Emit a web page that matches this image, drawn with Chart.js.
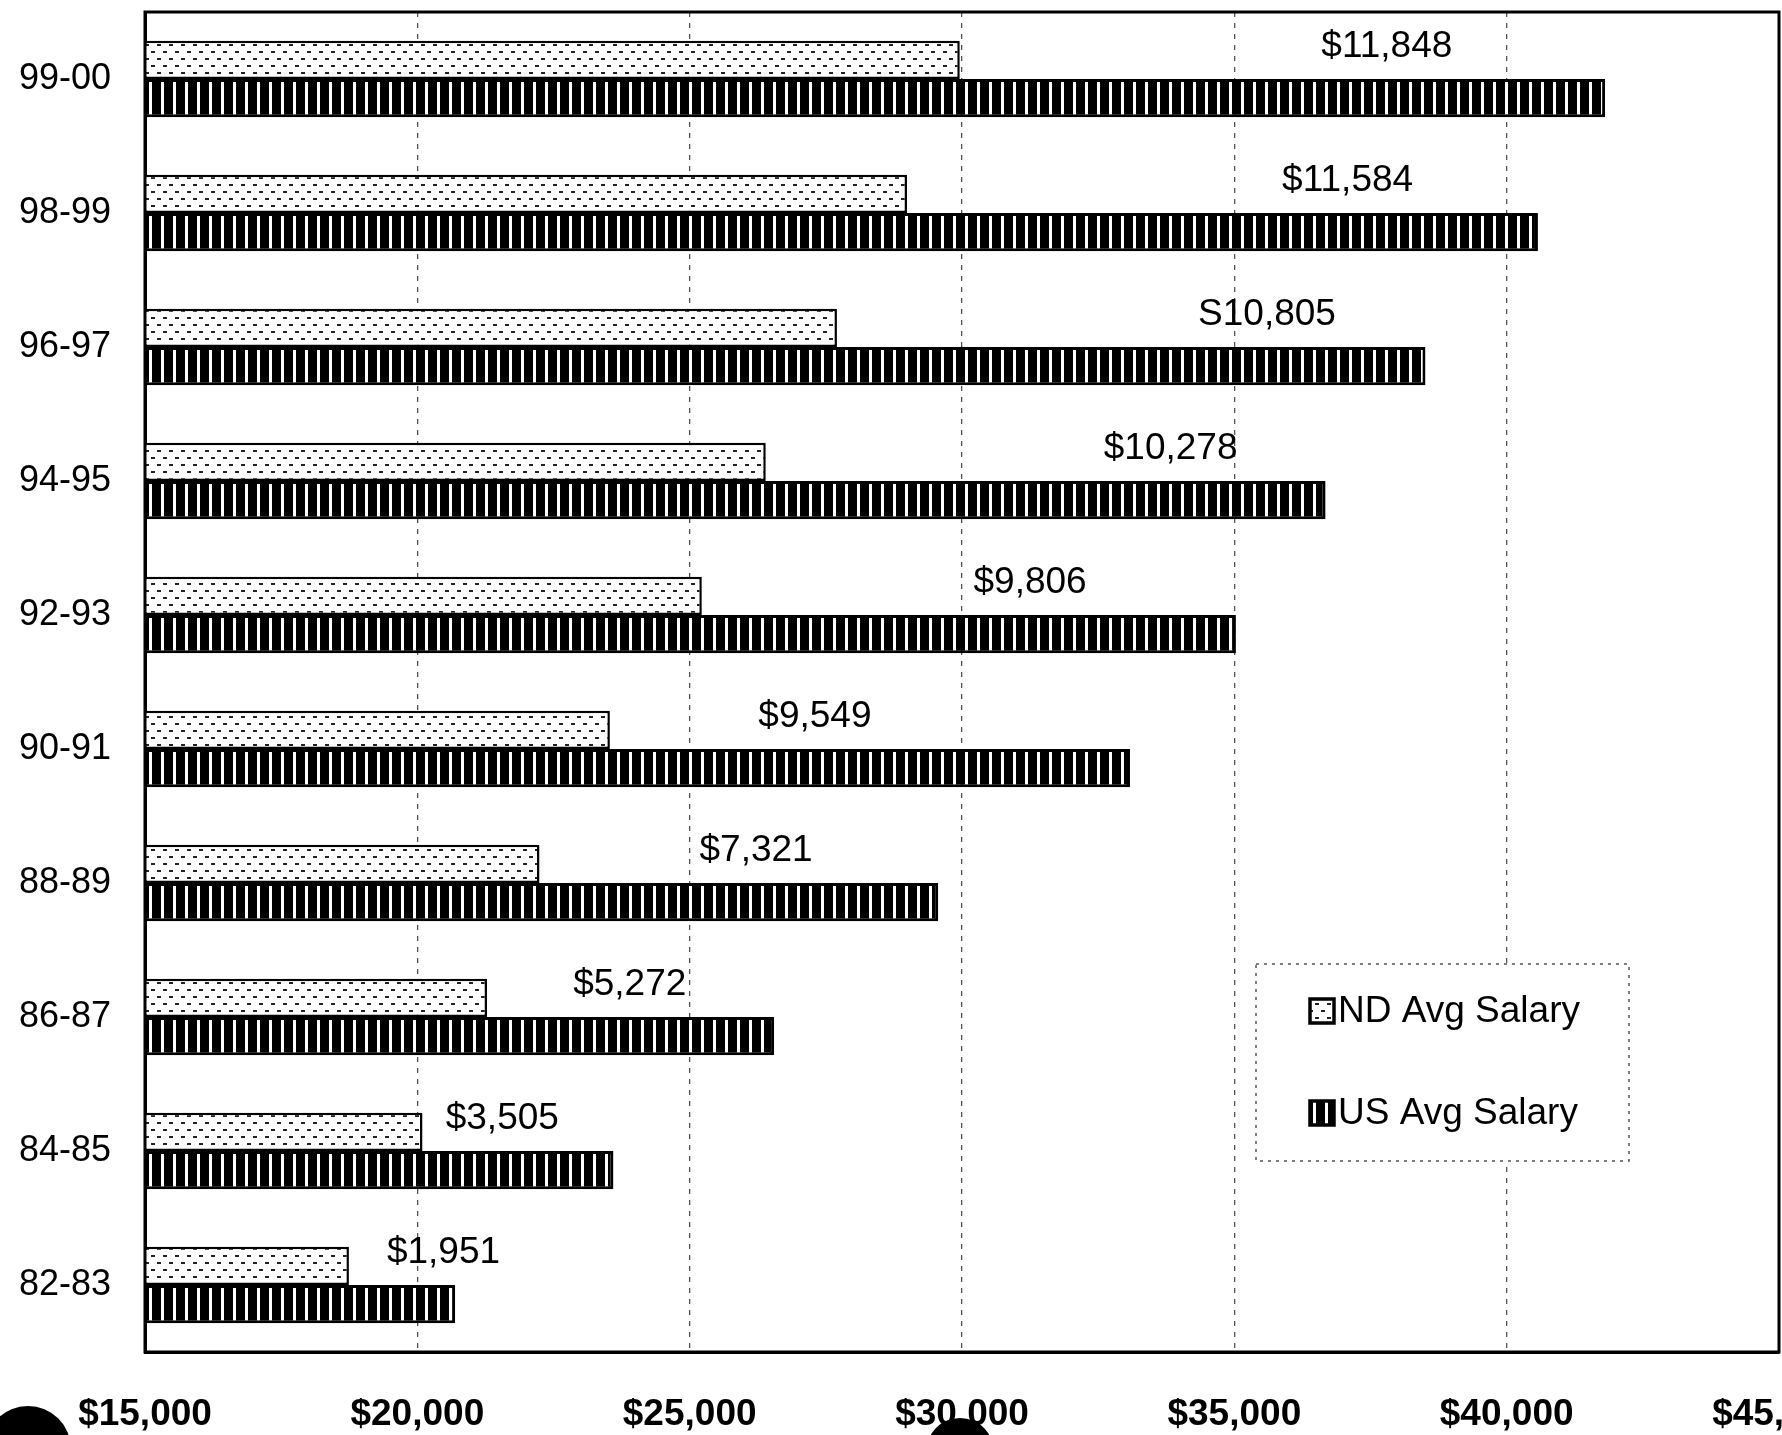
<!DOCTYPE html>
<html>
<head>
<meta charset="utf-8">
<script src="https://cdn.jsdelivr.net/npm/chart.js@4"></script>
<style>
  html, body { margin: 0; padding: 0; background: #fff; }
  #wrap { position: relative; width: 1782px; height: 1435px; overflow: hidden; background: #fff; }
  #chart { position: absolute; left: 0; top: 0; }
  .punch { position: absolute; background: #000; border-radius: 50%; }
</style>
</head>
<body>
<div id="wrap">
  <canvas id="chart" width="1782" height="1435"></canvas>
  <div class="punch" style="left:-15px; top:1406px; width:86px; height:86px;"></div>
  <div class="punch" style="left:926px; top:1418px; width:68px; height:68px;"></div>
</div>
<script>
// School years, top to bottom
const years = ['99-00', '98-99', '96-97', '94-95', '92-93', '90-91', '88-89', '86-87', '84-85', '82-83'];

// Average teacher salaries
const usSalary = [41807, 40574, 38509, 36675, 35029, 33084, 29564, 26551, 23600, 20695];
const gapLabels = ['$11,848', '$11,584', 'S10,805', '$10,278', '$9,806', '$9,549', '$7,321', '$5,272', '$3,505', '$1,951'];
const gapValues = [11848, 11584, 10805, 10278, 9806, 9549, 7321, 5272, 3505, 1951];
const ndSalary = usSalary.map((v, i) => v - gapValues[i]);

// Where each gap label sits along the salary axis (centre of the text)
const gapLabelAt = [37800, 37080, 35600, 33830, 31250, 27300, 26220, 23900, 21560, 20480];

const xTicks = [15000, 20000, 25000, 30000, 35000, 40000, 45000];

const FONT = '"Liberation Sans", Arial, sans-serif';

// Fill patterns like the old printer hatching
function dotPattern() {
    const c = document.createElement('canvas');
    c.width = 12; c.height = 14;
    const g = c.getContext('2d');
    g.fillStyle = '#fff';
    g.fillRect(0, 0, 12, 14);
    g.fillStyle = '#222';
    g.fillRect(1, 2, 4, 2);
    g.fillRect(7, 9, 4, 2);
    return g.createPattern(c, 'repeat');
}

function stripePattern() {
    const c = document.createElement('canvas');
    c.width = 12; c.height = 8;
    const g = c.getContext('2d');
    g.fillStyle = '#000';
    g.fillRect(0, 0, 12, 8);
    g.fillStyle = '#fff';
    g.fillRect(5, 0, 3, 8);
    return g.createPattern(c, 'repeat');
}

const ndFill = dotPattern();
const usFill = stripePattern();

// Frame round the plot, the gap labels and the legend box
const framePlugin = {
    id: 'frame',
    afterDatasetsDraw(chart) {
        const ctx = chart.ctx;
        const a = chart.chartArea;
        const x = chart.scales.x;
        const meta = chart.getDatasetMeta(0);
        ctx.save();
        ctx.font = '37px ' + FONT;
        ctx.fillStyle = '#000';
        ctx.textAlign = 'center';
        ctx.textBaseline = 'middle';
        meta.data.forEach((bar, i) => {
            ctx.fillText(gapLabels[i], x.getPixelForValue(gapLabelAt[i]), bar.y - 13);
        });
        ctx.strokeStyle = '#000';
        ctx.lineWidth = 3;
        ctx.strokeRect(a.left, a.top, a.right - a.left, a.bottom - a.top);
        ctx.restore();
    },
    afterDraw(chart) {
        const ctx = chart.ctx;
        const box = { left: 1256, top: 964, right: 1629, bottom: 1161 };
        ctx.save();
        ctx.fillStyle = '#fff';
        ctx.fillRect(box.left, box.top, box.right - box.left, box.bottom - box.top);
        ctx.strokeStyle = '#555';
        ctx.lineWidth = 1.5;
        ctx.setLineDash([3, 5]);
        ctx.strokeRect(box.left, box.top, box.right - box.left, box.bottom - box.top);
        ctx.setLineDash([]);
        const rows = [
            { label: chart.data.datasets[0].label, fill: ndFill, y: 1011 },
            { label: chart.data.datasets[1].label, fill: usFill, y: 1113 }
        ];
        rows.forEach(r => {
            ctx.fillStyle = r.fill;
            ctx.fillRect(1310, r.y - 12, 24, 24);
            ctx.strokeStyle = '#000';
            ctx.lineWidth = 3.5;
            ctx.strokeRect(1310, r.y - 12, 24, 24);
            ctx.fillStyle = '#000';
            ctx.font = '37px ' + FONT;
            ctx.textAlign = 'left';
            ctx.textBaseline = 'middle';
            ctx.fillText(r.label, 1338, r.y + 1);
        });
        ctx.restore();
    }
};

const ctx = document.getElementById('chart').getContext('2d');
new Chart(ctx, {
    type: 'bar',
    data: {
        labels: years,
        datasets: [{
            label: 'ND Avg Salary',
            data: ndSalary,
            backgroundColor: ndFill,
            borderColor: '#000',
            borderWidth: 2.5,
            borderSkipped: false
        }, {
            label: 'US Avg Salary',
            data: usSalary,
            backgroundColor: usFill,
            borderColor: '#000',
            borderWidth: 3,
            borderSkipped: false
        }]
    },
    options: {
        indexAxis: 'y',
        responsive: false,
        animation: false,
        layout: { padding: { top: 12, left: 0, right: 3, bottom: 0 } },
        datasets: {
            bar: { categoryPercentage: 0.57, barPercentage: 1 }
        },
        plugins: {
            legend: { display: false },
            tooltip: { enabled: false }
        },
        scales: {
            x: {
                min: 15000,
                max: 45000,
                afterBuildTicks(scale) {
                    scale.ticks = xTicks.map(v => ({ value: v }));
                },
                afterFit(scale) {
                    scale.height = 83;
                    scale.paddingLeft = 0;
                    scale.paddingRight = 0;
                },
                grid: {
                    color: '#555',
                    lineWidth: 1.3,
                    drawTicks: false
                },
                border: { display: true, color: '#000', width: 3, dash: [5, 6] },
                ticks: {
                    padding: 41,
                    color: '#000',
                    font: { family: FONT, size: 37, weight: 'bold' },
                    callback: v => '$' + Number(v).toLocaleString('en-US')
                }
            },
            y: {
                afterFit(scale) {
                    scale.width = 145;
                    scale.paddingTop = 0;
                    scale.paddingBottom = 0;
                },
                grid: { display: false },
                border: { display: true, color: '#000', width: 3 },
                ticks: {
                    padding: 26,
                    color: '#000',
                    font: { family: FONT, size: 36 }
                }
            }
        }
    },
    plugins: [framePlugin]
});
</script>
</body>
</html>
